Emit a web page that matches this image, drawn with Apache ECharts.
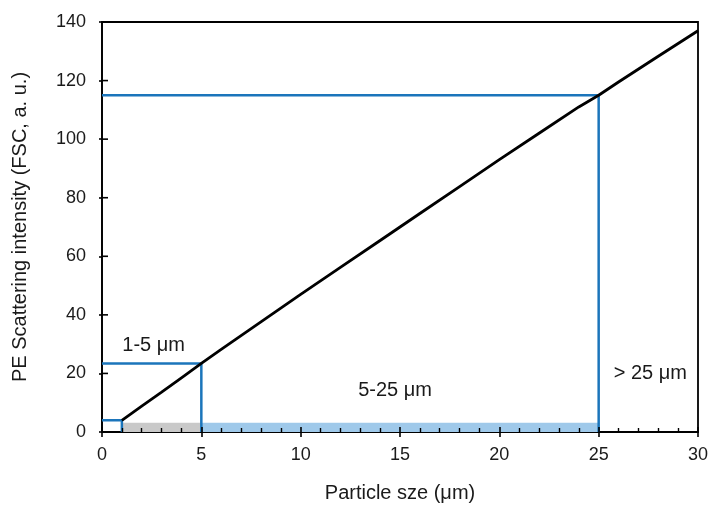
<!DOCTYPE html>
<html>
<head>
<meta charset="utf-8">
<script src="https://cdn.jsdelivr.net/npm/echarts@6/dist/echarts.min.js"></script>
<style>html,body{margin:0;padding:0;background:#fff}#chart{width:714px;height:509px}</style>
</head>
<body>
<div id="chart"></div>
<script>
// Scattering intensity versus particle size (calibration curve)
const sizes = [1, 2, 3, 4, 5, 6, 8, 10, 12, 14, 15, 16, 18, 20, 22, 24, 25, 26, 28, 30];
const intensity = [4, 8.8, 13.6, 18.5, 23.4, 28.2, 37.6, 47, 56.2, 65.4, 70, 74.6, 83.8, 93, 102, 111, 115, 119.5, 128.3, 137];

// Size class limits and the intensity at each limit
const limits = [1, 5, 25];
const limitIntensity = [4, 23.4, 115];

// Shaded size bands along the x axis
const bands = [
  { from: 1, to: 5, height: 3.2, color: '#c9c9c9' },
  { from: 5, to: 25, height: 3.2, color: '#9fc9ea' }
];

const classLabels = [
  { text: '1-5 \u03bcm', x: 2.6, y: 29.7 },
  { text: '5-25 \u03bcm', x: 14.75, y: 14.3 },
  { text: '> 25 \u03bcm', x: 27.6, y: 20.1 }
];

const xTicks = [0, 5, 10, 15, 20, 25, 30];
const yTicks = [0, 20, 40, 60, 80, 100, 120, 140];

const blue = '#1b75bb';
const font = 'Liberation Sans, Arial, sans-serif';
const ink = '#1a1a1a';

const series = [];

// bands
bands.forEach(b => {
  series.push({
    type: 'line',
    data: [[b.from, b.height], [b.to, b.height]],
    symbol: 'none',
    lineStyle: { width: 0 },
    areaStyle: { color: b.color, opacity: 1, origin: 'start' },
    z: 1,
    silent: true
  });
});

// limit guides: horizontal from y axis to the curve, vertical down to the x axis
limits.forEach((x, i) => {
  const y = limitIntensity[i];
  series.push({
    type: 'line',
    data: [[0, y], [x, y], [x, 0]],
    symbol: 'none',
    lineStyle: { color: blue, width: 2.5 },
    z: 3,
    silent: true
  });
});

// calibration curve
series.push({
  type: 'line',
  data: sizes.map((s, i) => [s, intensity[i]]),
  symbol: 'none',
  lineStyle: { color: '#000', width: 2.8 },
  z: 4
});

const axisLineStyle = { color: '#000', width: 1.6 };

const chart = echarts.init(document.getElementById('chart'));
chart.setOption({
  animation: false,
  backgroundColor: '#fff',
  grid: { left: 102, right: 16, top: 22, bottom: 77, show: true, borderColor: '#000', borderWidth: 1.8 },
  xAxis: [{
    type: 'value',
    min: 0, max: 30, interval: 5,
    name: 'Particle sze (\u03bcm)',
    nameLocation: 'middle',
    nameGap: 51,
    nameTextStyle: { fontFamily: font, fontSize: 20, color: ink },
    axisLine: { show: true, lineStyle: axisLineStyle },
    axisTick: { show: true, inside: false, length: 5, lineStyle: { color: '#000', width: 1.6 } },
    axisLabel: { fontFamily: font, fontSize: 18, color: ink, margin: 14,
      formatter: v => xTicks.includes(v) ? String(v) : '' },
    splitLine: { show: false }
  }, {
    // inward ticks: major tick upper halves plus unit minor ticks
    type: 'value',
    position: 'bottom',
    min: 0, max: 30, interval: 5,
    z: 10,
    axisLine: { show: false },
    axisTick: { show: true, inside: true, length: 5, lineStyle: { color: '#000', width: 1.6 } },
    minorTick: { show: true, splitNumber: 5, length: 4, lineStyle: { color: '#000', width: 1.4 } },
    axisLabel: { show: false },
    splitLine: { show: false }
  }],
  yAxis: {
    type: 'value',
    min: 0, max: 140, interval: 20,
    name: 'PE Scattering intensity (FSC, a. u.)',
    nameLocation: 'middle',
    nameGap: 72,
    nameTextStyle: { fontFamily: font, fontSize: 20, color: ink },
    axisLine: { show: true, lineStyle: axisLineStyle },
    axisTick: { show: true, length: 3, lineStyle: { color: '#000', width: 1.6 } },
    axisLabel: { fontFamily: font, fontSize: 18, color: ink, margin: 16,
      formatter: v => yTicks.includes(v) ? String(v) : '' },
    splitLine: { show: false }
  },
  series: series
});

// inward halves of the y-axis ticks
const yTickMarks = yTicks.slice(1, -1).map(v => {
  const p = chart.convertToPixel({ gridIndex: 0 }, [0, v]);
  return { type: 'line', shape: { x1: p[0], y1: p[1], x2: p[0] + 6, y2: p[1] },
    style: { stroke: '#000', lineWidth: 1.6 }, z: 10 };
});

// size class captions placed at data coordinates
const captions = classLabels.map(l => {
  const p = chart.convertToPixel({ gridIndex: 0 }, [l.x, l.y]);
  return { type: 'text', x: p[0], y: p[1], z: 10,
    style: { text: l.text, fill: ink, font: '20px ' + font, align: 'center', verticalAlign: 'middle' } };
});

chart.setOption({ graphic: yTickMarks.concat(captions) });
</script>
</body>
</html>
